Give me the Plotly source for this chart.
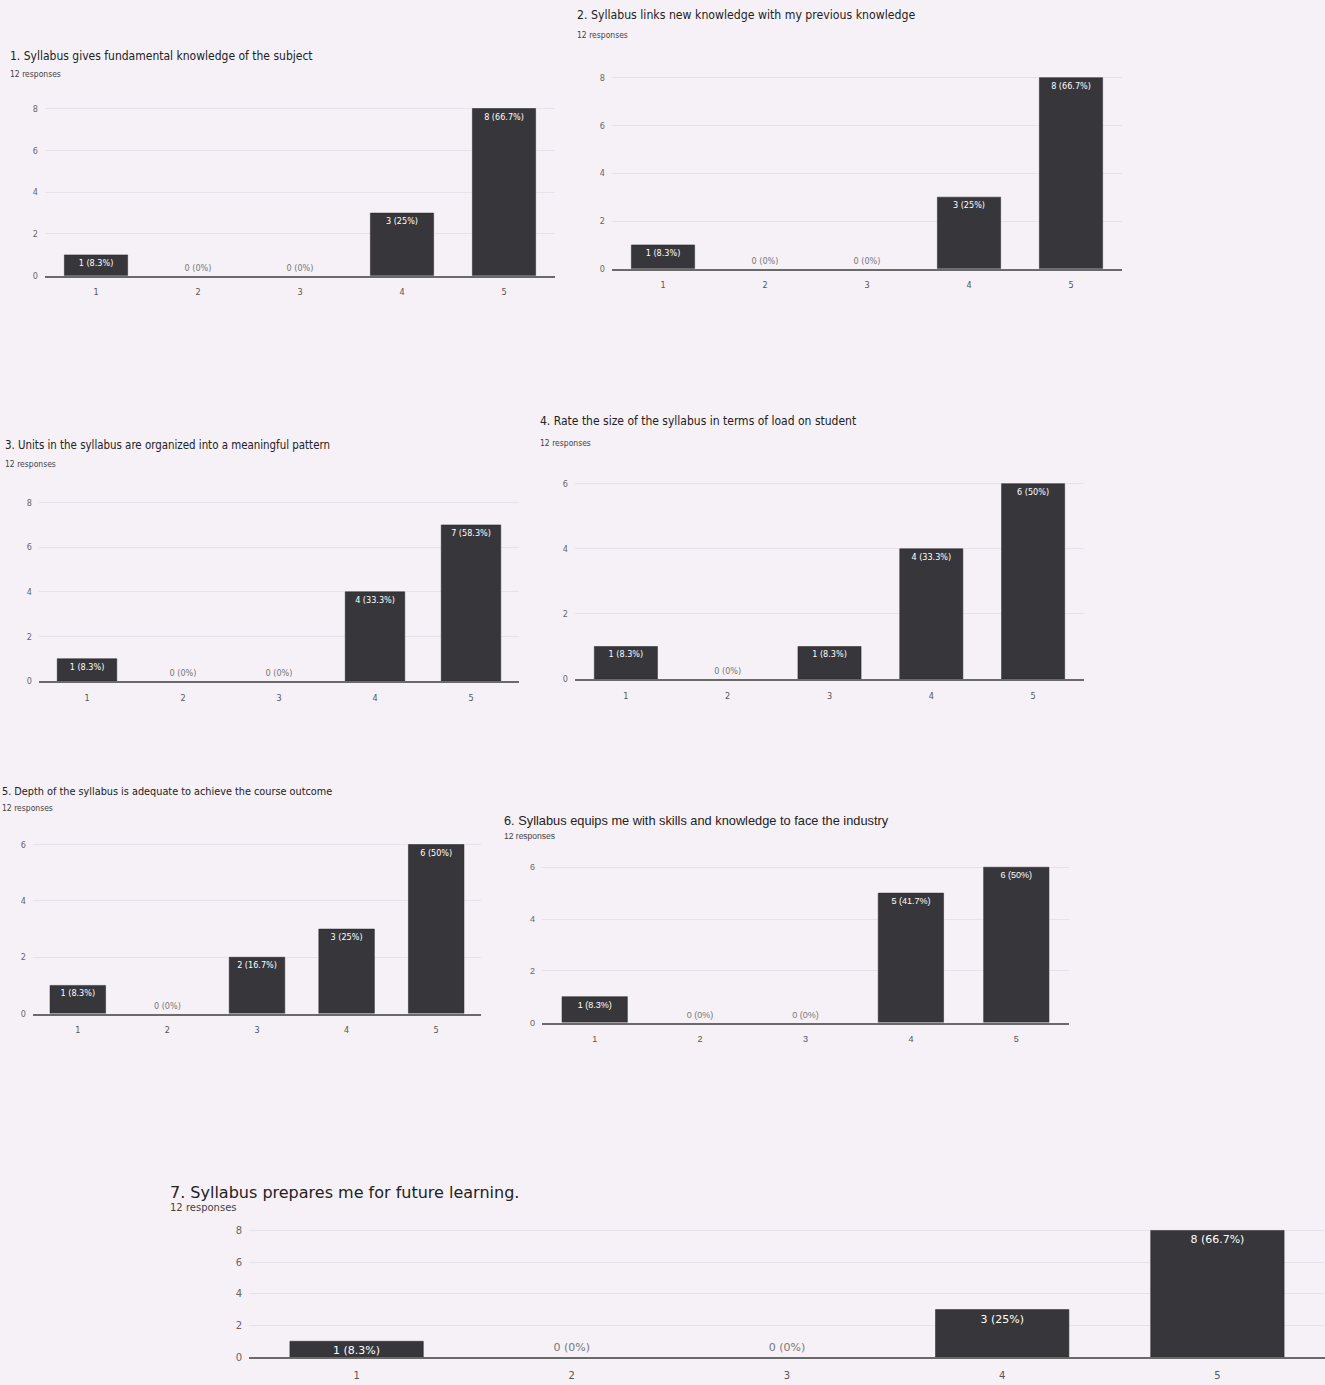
import plotly.graph_objects as go

W, H = 1325, 1385

categories = ["1", "2", "3", "4", "5"]

titles = [
    "1. Syllabus gives fundamental knowledge of the subject",
    "2. Syllabus links new knowledge with my previous knowledge",
    "3. Units in the syllabus are organized into a meaningful pattern",
    "4. Rate the size of the syllabus in terms of load on student",
    "5. Depth of the syllabus is adequate to achieve the course outcome",
    "6. Syllabus equips me with skills and knowledge to face the industry",
    "7. Syllabus prepares me for future learning.",
]
subtitle = "12 responses"

q1_counts = [1, 0, 0, 3, 8]
q2_counts = [1, 0, 0, 3, 8]
q3_counts = [1, 0, 0, 4, 7]
q4_counts = [1, 0, 1, 4, 6]
q5_counts = [1, 0, 2, 3, 6]
q6_counts = [1, 0, 0, 5, 6]
q7_counts = [1, 0, 0, 3, 8]

q1_labels = ["1 (8.3%)", "0 (0%)", "0 (0%)", "3 (25%)", "8 (66.7%)"]
q2_labels = ["1 (8.3%)", "0 (0%)", "0 (0%)", "3 (25%)", "8 (66.7%)"]
q3_labels = ["1 (8.3%)", "0 (0%)", "0 (0%)", "4 (33.3%)", "7 (58.3%)"]
q4_labels = ["1 (8.3%)", "0 (0%)", "1 (8.3%)", "4 (33.3%)", "6 (50%)"]
q5_labels = ["1 (8.3%)", "0 (0%)", "2 (16.7%)", "3 (25%)", "6 (50%)"]
q6_labels = ["1 (8.3%)", "0 (0%)", "0 (0%)", "5 (41.7%)", "6 (50%)"]
q7_labels = ["1 (8.3%)", "0 (0%)", "0 (0%)", "3 (25%)", "8 (66.7%)"]

y_ticks_8 = [0, 2, 4, 6, 8]
y_ticks_6 = [0, 2, 4, 6]

counts = [q1_counts, q2_counts, q3_counts, q4_counts, q5_counts, q6_counts, q7_counts]
labels = [q1_labels, q2_labels, q3_labels, q4_labels, q5_labels, q6_labels, q7_labels]
yticks = [y_ticks_8, y_ticks_8, y_ticks_8, y_ticks_6, y_ticks_6, y_ticks_6, y_ticks_8]

NARROW = "DejaVu Sans Condensed, Liberation Sans Narrow, Arial Narrow, sans-serif"
REG = "Liberation Sans, Arial, sans-serif"
WIDE = "DejaVu Sans, sans-serif"

panels = [
    dict(x0=45, x1=555, y0=277, ppu=21.0, ymax=8.8, tx=8, ty=56, sy=74, ts=12, font=NARROW, tf=9, lf=9, xs=7),
    dict(x0=612, x1=1122, y0=270, ppu=24.0, ymax=8.6, tx=575, ty=15, sy=35, ts=12.2, font=NARROW, tf=9, lf=9, xs=7),
    dict(x0=39, x1=519, y0=684, ppu=22.4, ymax=8.5, tx=3, ty=447, sy=466, ts=11.4, font=NARROW, tf=9, lf=9, xs=7),
    dict(x0=575, x1=1084, y0=682, ppu=32.7, ymax=6.4, tx=538, ty=423, sy=445, ts=12, font=NARROW, tf=9, lf=9, xs=7),
    dict(x0=33, x1=481, y0=1018, ppu=28.3, ymax=6.4, tx=0, ty=795, sy=812, ts=10.8, font=NARROW, tf=9, lf=9, xs=7),
    dict(x0=542, x1=1069, y0=1027, ppu=26.0, ymax=6.4, tx=502, ty=824, sy=840, ts=12.8, font=REG, tf=9, lf=9, xs=7),
    dict(x0=249, x1=1326, y0=1363, ppu=15.9, ymax=8.5, tx=168, ty=1198, sy=1213, ts=16, font=WIDE, tf=10, lf=11, xs=8),
]

BG = "#f6f1f7"
BAR = "#37363a"

fig = go.Figure()
annotations = []
for i, (p, c, lab, yt) in enumerate(zip(panels, counts, labels, yticks)):
    k = "" if i == 0 else str(i + 1)
    xa, ya = "xaxis" + k, "yaxis" + k
    top_px = p["y0"] - p["ymax"] * p["ppu"]
    dom_x = [max(0, p["x0"] / W), min(1, p["x1"] / W)]
    dom_y = [1 - p["y0"] / H, 1 - top_px / H]
    fig.add_trace(go.Bar(
        x=categories, y=c, xaxis="x" + k, yaxis="y" + k,
        marker=dict(color=BAR, line=dict(color="#222", width=[0 if v == 0 else 0.5 for v in c])),
        width=0.62,
        text=lab,
        textposition=["outside" if v == 0 else "inside" for v in c],
        insidetextanchor="end",
        textfont=dict(size=p["lf"], family=p["font"],
                      color=["#777" if v == 0 else "white" for v in c]),
        cliponaxis=False, constraintext="none", showlegend=False,
        hoverinfo="skip",
    ))
    fig.update_layout(**{
        xa: dict(domain=dom_x, anchor="y" + k, type="category", range=[-0.5, 4.5],
                 showline=True, linecolor="#6a6a6a", linewidth=1.5, ticks="",
                 tickfont=dict(size=p["tf"], color="#555", family=p["font"]),
                 ticklabelstandoff=p["xs"], showgrid=False, fixedrange=True),
        ya: dict(domain=dom_y, anchor="x" + k, range=[0, p["ymax"]], tickvals=yt,
                 tickfont=dict(size=p["tf"], color="#666", family=p["font"]),
                 showgrid=True, gridcolor="rgba(200,195,210,0.35)", zeroline=False,
                 ticklabelstandoff=6, fixedrange=True),
    })
    annotations.append(dict(text=titles[i], x=p["tx"] / W, y=1 - p["ty"] / H, xref="paper", yref="paper",
                            xanchor="left", yanchor="middle", showarrow=False,
                            font=dict(size=p["ts"], color="#222", family=p["font"])))
    annotations.append(dict(text=subtitle, x=p["tx"] / W, y=1 - p["sy"] / H, xref="paper", yref="paper",
                            xanchor="left", yanchor="middle", showarrow=False,
                            font=dict(size=8.5 if i < 6 else 10, color="#444", family=p["font"])))

fig.update_layout(
    width=W, height=H, margin=dict(l=0, r=0, t=0, b=0),
    paper_bgcolor=BG, plot_bgcolor=BG, annotations=annotations,
    uniformtext=dict(minsize=8, mode="show"),
)
fig.write_html("out.html", config={"displayModeBar": False},
               post_script="document.body.style.margin='0';document.body.style.background='" + BG + "';")
